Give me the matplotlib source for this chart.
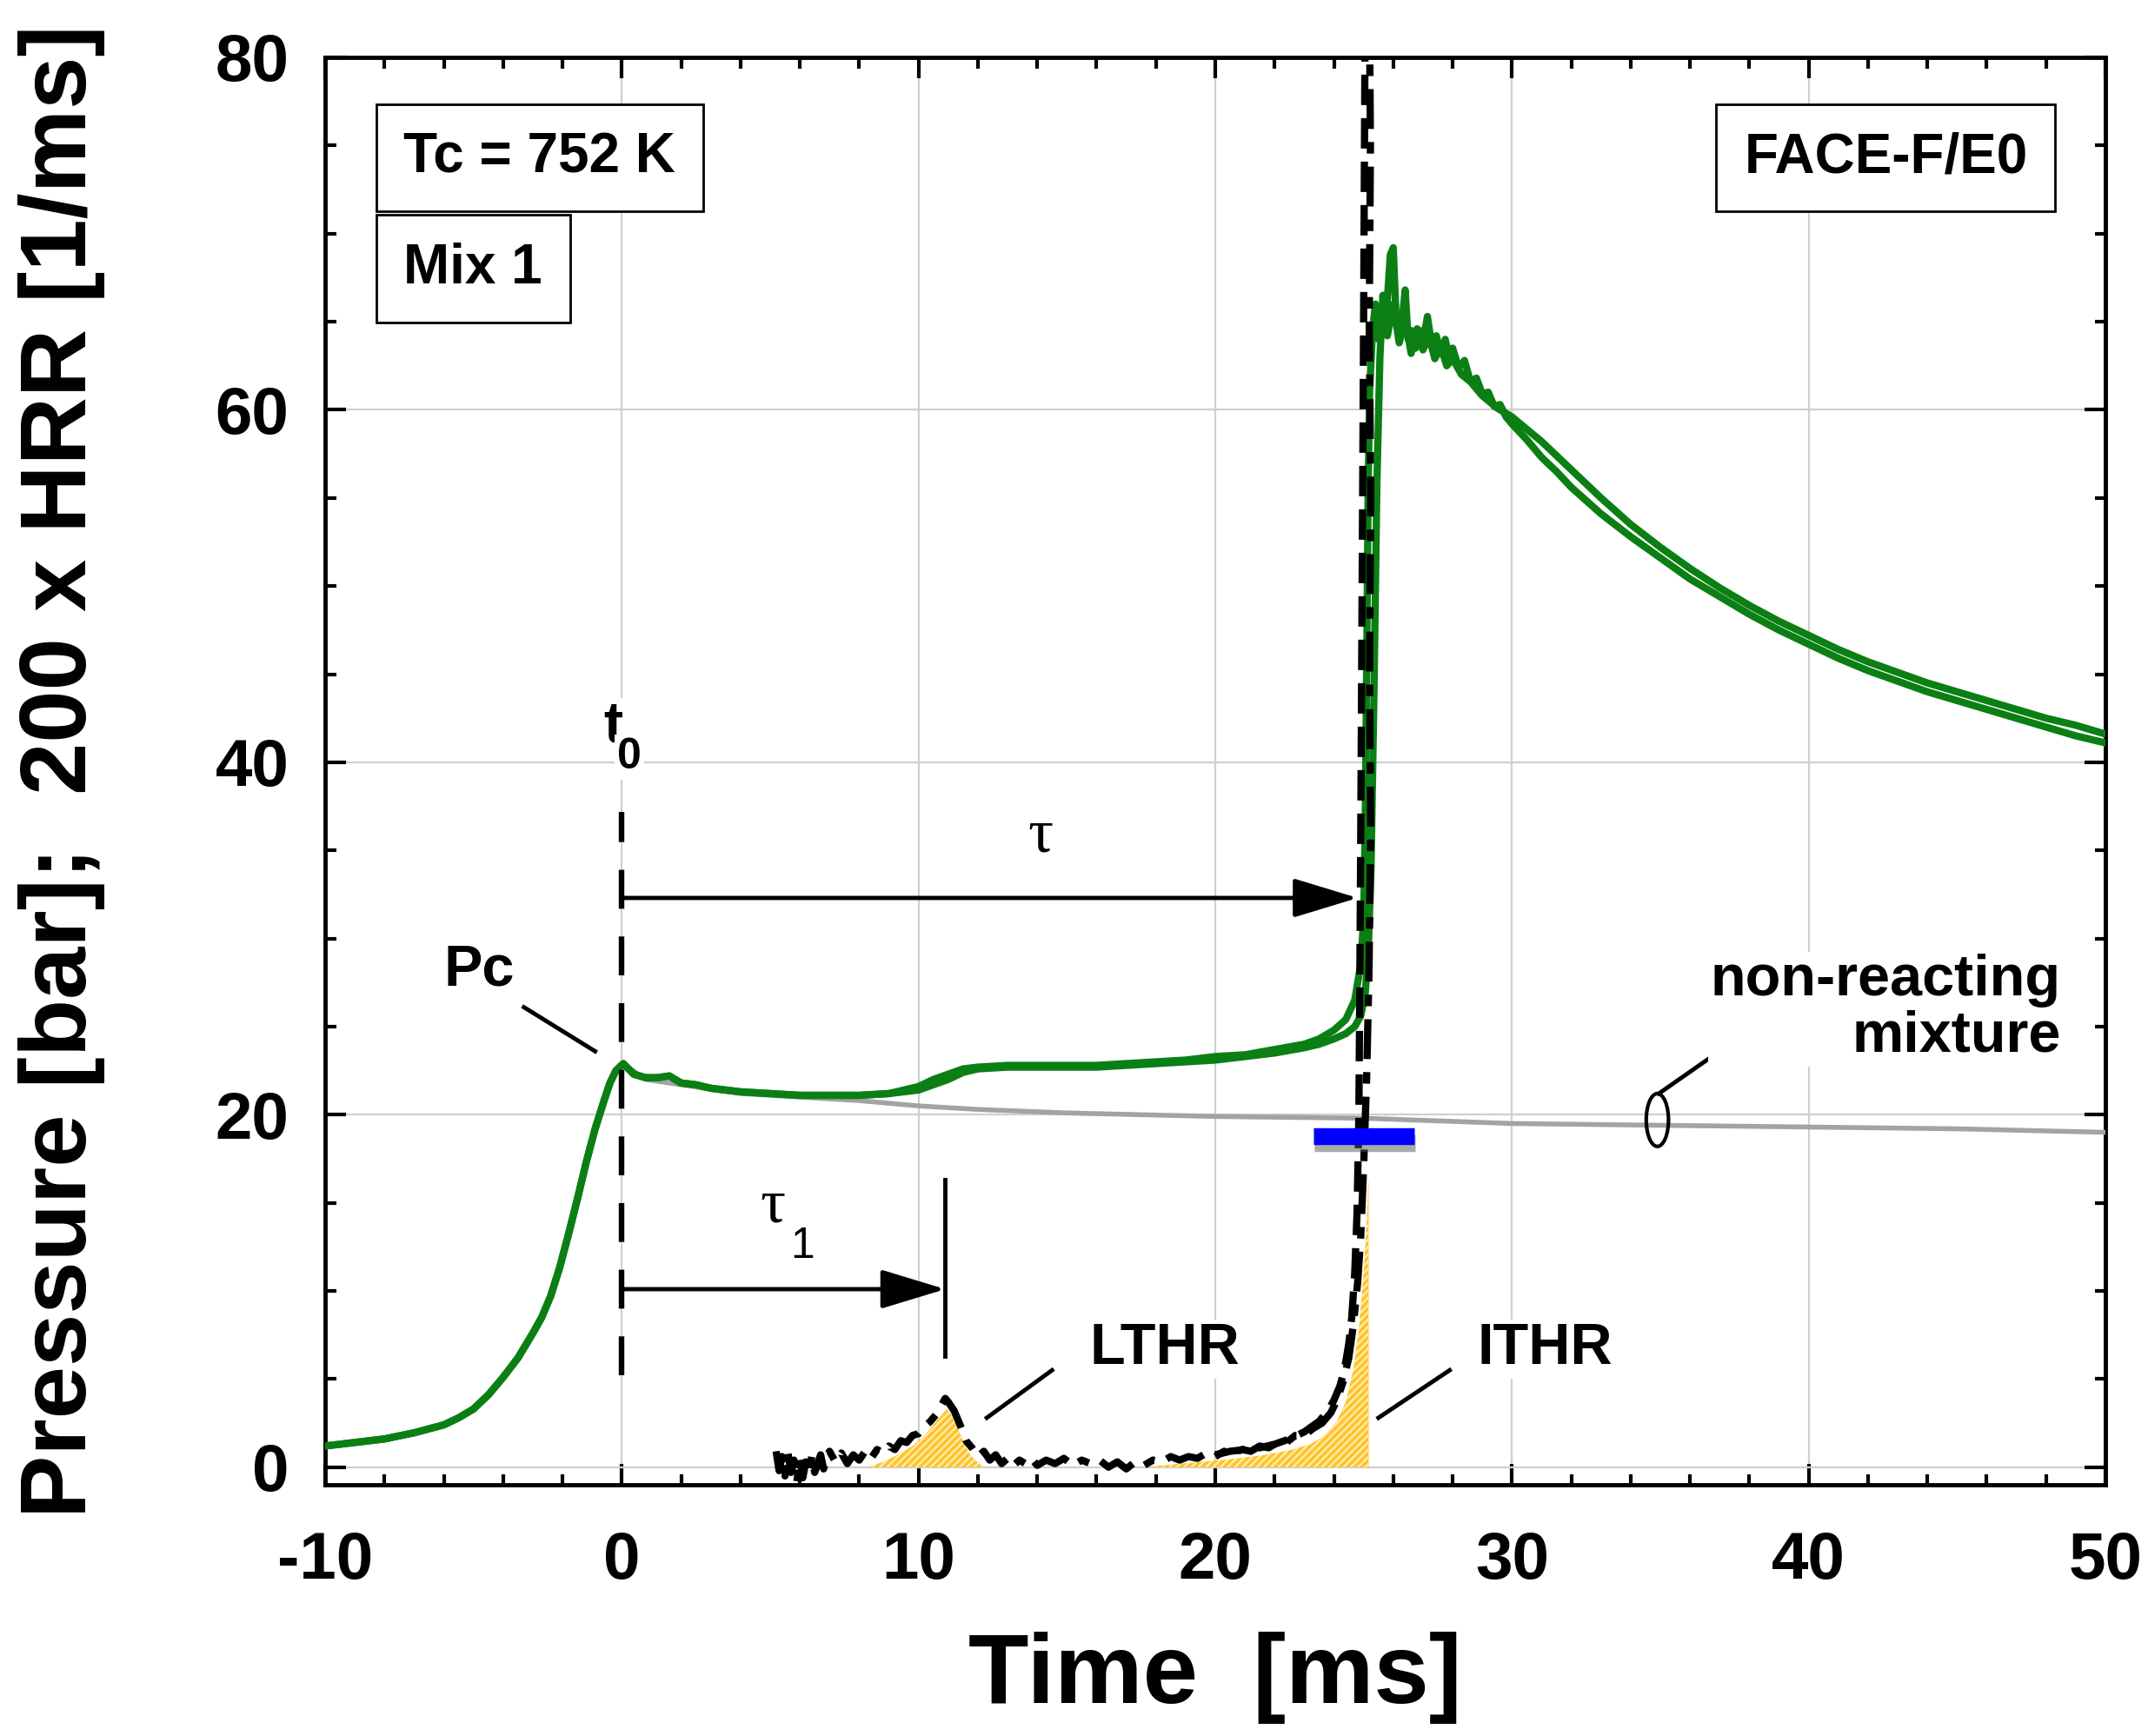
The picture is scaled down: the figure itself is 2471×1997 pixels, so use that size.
import matplotlib
matplotlib.use('Agg')
import matplotlib.pyplot as plt
import matplotlib.patheffects as pe
from matplotlib.patches import Ellipse
from matplotlib.ticker import MultipleLocator

plt.rcParams['font.family'] = ['Liberation Sans Narrow', 'Liberation Sans', 'DejaVu Sans']
plt.rcParams['font.weight'] = 'bold'
plt.rcParams['axes.unicode_minus'] = False
plt.rcParams['hatch.linewidth'] = 1.5

# --- data ---
# compression stroke (common to all runs) [ms], [bar]
t_comp = [-10, -9, -8, -7, -6, -5.5, -5, -4.5, -4, -3.5, -3, -2.7, -2.4, -2.1, -1.8, -1.5, -1.2,
          -0.9, -0.6, -0.4, -0.2, 0.05]
p_comp = [1.2, 1.4, 1.6, 1.95, 2.4, 2.8, 3.3, 4.1, 5.1, 6.2, 7.6, 8.5, 9.7, 11.3, 13.2, 15.2, 17.3,
          19.2, 20.8, 21.8, 22.5, 22.9]

# reacting run 1 (after TDC)
t_run1 = [0.05, 0.4, 0.8, 1.2, 1.6, 2.0, 2.5, 3, 4, 5, 6, 7, 8, 9, 9.5, 10, 10.5, 11, 11.5, 12, 13, 14,
          15, 16, 17, 18, 19, 20, 21, 22, 23, 23.5, 24, 24.4, 24.7, 24.9, 25.05, 25.15, 25.25, 25.35,
          25.45, 25.55, 25.65, 25.75, 25.9, 26.0, 26.1, 26.25, 26.4, 26.5, 26.6, 26.75, 26.9, 27.0,
          27.15, 27.3, 27.45, 27.6, 27.75, 27.9, 28.0, 28.2, 28.4, 28.6, 28.8, 29.0, 29.2, 29.4, 29.6,
          29.8, 30.0, 30.5, 31, 31.5, 32, 33, 34, 35, 36, 37, 38, 39, 40, 41, 42, 43, 44, 45, 46, 47,
          48, 49, 50]
p_run1 = [22.9, 22.3, 22.1, 22.1, 22.2, 21.8, 21.7, 21.5, 21.3, 21.2, 21.1, 21.1, 21.1, 21.2, 21.3,
          21.4, 21.7, 22.0, 22.4, 22.6, 22.7, 22.7, 22.7, 22.7, 22.8, 22.9, 23.0, 23.1, 23.3, 23.5,
          23.8, 24.0, 24.3, 24.6, 25.0, 25.6, 26.8, 29.0, 34.0, 44.0, 56.0, 63.0, 66.5, 65.0, 68.8,
          69.2, 65.0, 64.2, 66.8, 64.0, 64.5, 63.5, 64.5, 63.8, 65.3, 63.6, 64.2, 63.2, 64.0, 62.8,
          63.5, 62.4, 62.8, 61.6, 61.8, 60.9, 61.0, 60.2, 60.3, 59.6, 59.2, 58.3, 57.3, 56.5, 55.6,
          54.1, 52.8, 51.6, 50.4, 49.4, 48.4, 47.5, 46.7, 45.9, 45.2, 44.6, 44.0, 43.5, 43.0, 42.5,
          42.0, 41.5, 41.1]

# reacting run 2 (after TDC)
t_run2 = [0.05, 0.4, 0.8, 1.2, 1.6, 2.0, 2.5, 3, 4, 5, 6, 7, 8, 9, 9.5, 10, 10.5, 11, 11.5, 12, 13, 14,
          15, 16, 17, 18, 19, 20, 21, 22, 23, 23.5, 24, 24.4, 24.7, 24.9, 25.0, 25.05, 25.1, 25.15,
          25.2, 25.3, 25.4, 25.5, 25.6, 25.8, 26.0, 26.2, 26.4, 26.6, 26.8, 27.0, 27.2, 27.4, 27.6,
          27.8, 28.0, 28.3, 28.6, 29.0, 29.5, 30.0, 31, 32, 33, 34, 35, 36, 37, 38, 39, 40, 41, 42,
          43, 44, 45, 46, 47, 48, 49, 50]
p_run2 = [22.9, 22.3, 22.1, 22.1, 22.2, 21.8, 21.7, 21.5, 21.3, 21.2, 21.1, 21.1, 21.1, 21.2, 21.4,
          21.6, 22.0, 22.3, 22.6, 22.7, 22.8, 22.8, 22.8, 22.8, 22.9, 23.0, 23.1, 23.3, 23.4, 23.7,
          24.0, 24.3, 24.8, 25.4, 26.5, 28.5, 31.0, 36.0, 45.0, 55.0, 61.0, 64.5, 66.0, 64.0, 65.5,
          64.2, 66.0, 63.8, 65.2, 63.2, 64.6, 63.4, 64.2, 62.9, 63.6, 62.5, 62.9, 62.0, 61.6, 60.8,
          60.1, 59.6, 58.2, 56.6, 55.0, 53.5, 52.2, 51.0, 49.9, 48.9, 48.0, 47.2, 46.4, 45.7, 45.1,
          44.5, 44.0, 43.5, 43.0, 42.5, 42.1, 41.6]

# non-reacting mixture (after TDC)
t_nonreact = [0.05, 0.8, 2, 4, 6, 8, 10, 12, 15, 20, 25, 30, 35, 40, 45, 50]
p_nonreact = [22.9, 22.0, 21.7, 21.2, 21.0, 20.8, 20.5, 20.3, 20.1, 19.9, 19.8, 19.5, 19.4, 19.3, 19.2, 19.0]

# 200 x HRR, run 1 [1/ms]
t_hrr1 = [5.2, 5.3, 5.4, 5.5, 5.6, 5.7, 5.8, 5.9, 6.0, 6.1, 6.2, 6.3, 6.4, 6.5, 6.6, 6.7, 6.8, 6.9, 7.0,
          7.2, 7.4, 7.6, 7.8, 8.0, 8.2, 8.4, 8.6, 8.8, 9.0, 9.2, 9.4, 9.6, 9.8, 10.0, 10.2, 10.4, 10.6,
          10.8, 10.9, 11.0, 11.2, 11.4, 11.6, 11.8, 12.0, 12.2, 12.4, 12.6, 12.8, 13.0, 13.2, 13.4,
          13.6, 13.8, 14.0, 14.3, 14.6, 14.9, 15.2, 15.5, 15.8, 16.1, 16.4, 16.7, 17.0, 17.3, 17.6,
          17.9, 18.2, 18.5, 18.8, 19.1, 19.4, 19.7, 20.0, 20.3, 20.6, 20.9, 21.2, 21.5, 21.8, 22.1,
          22.4, 22.7, 23.0, 23.3, 23.6, 23.9, 24.1, 24.3, 24.5, 24.65, 24.8, 24.9, 25.0, 25.1, 25.18,
          25.24, 25.2, 25.24, 25.19, 25.23, 25.2]
hrr1 = [0.9, -0.2, 0.6, -0.5, 0.8, -0.3, 0.4, -0.8, 0.5, -0.6, 0.3, -0.4, 0.6, -0.3, 0.2, 0.7, -0.1,
        0.5, 0.9, 0.3, 0.8, 0.2, 0.7, 0.4, 0.9, 0.5, 1.0, 0.8, 1.2, 1.0, 1.5, 1.4, 1.8, 1.9, 2.3, 2.6,
        3.0, 3.6, 3.9, 3.7, 3.2, 2.4, 1.5, 1.1, 0.6, 0.9, 0.4, 0.7, 0.2, 0.5, 0.1, 0.4, 0.2, 0.5, 0.1,
        0.4, 0.2, 0.5, 0.1, 0.4, 0.2, 0.4, 0.0, 0.3, -0.1, 0.3, 0.1, 0.4, 0.3, 0.6, 0.4, 0.6, 0.5,
        0.8, 0.6, 0.9, 0.8, 1.0, 0.9, 1.2, 1.1, 1.4, 1.4, 1.8, 1.8, 2.2, 2.5, 3.1, 3.8, 4.8, 6.2, 8.0,
        10.5, 13.0, 17.0, 22.0, 28.0, 36.0, 45.0, 55.0, 65.0, 75.0, 82.0]

# 200 x HRR, run 2 [1/ms]
t_hrr2 = [20.0, 20.5, 21.0, 21.5, 22.0, 22.5, 23.0, 23.5, 23.8, 24.0, 24.2, 24.35, 24.5, 24.6, 24.7,
          24.78, 24.84, 24.87, 24.9, 24.95, 25.0, 25.05]
hrr2 = [0.7, 0.9, 1.0, 1.1, 1.3, 1.6, 2.0, 2.6, 3.2, 3.8, 4.6, 5.5, 7.0, 8.5, 11.0, 14.5, 20.0, 27.0,
        35.0, 50.0, 65.0, 82.0]

# heat release areas (yellow)
t_lthr = [8.3, 8.8, 9.3, 9.8, 10.2, 10.5, 10.8, 10.95, 11.1, 11.3, 11.5, 11.7, 11.9, 12.2]
q_lthr = [0.0, 0.3, 0.7, 1.2, 1.8, 2.4, 3.0, 3.3, 3.0, 2.3, 1.5, 0.8, 0.4, 0.0]
t_ithr = [17.6, 18.5, 19.5, 20.5, 21.5, 22.5, 23.2, 23.7, 24.1, 24.4, 24.65, 24.85, 25.0, 25.1, 25.17, 25.171]
q_ithr = [0.0, 0.15, 0.3, 0.45, 0.65, 0.95, 1.3, 1.8, 2.6, 3.7, 5.5, 8.0, 11.0, 13.8, 16.5, 0.0]

green = '#0b7f14'

fig = plt.figure(figsize=(24.71, 19.97), dpi=100)
ax = fig.add_axes([374 / 2471, 1 - 1708 / 1997, 2048 / 2471, 1642 / 1997])

ax.fill_between(t_lthr, q_lthr, 0, facecolor='#ffc42e', edgecolor='#fff0b8', hatch='////',
                linewidth=0, zorder=2)
ax.fill_between(t_ithr, q_ithr, 0, facecolor='#ffc42e', edgecolor='#fff0b8', hatch='////',
                linewidth=0, zorder=2)

ax.plot(t_comp + t_nonreact, p_comp + p_nonreact, color='#a3a3a3', lw=4, zorder=3)
ax.plot(t_comp + t_run1, p_comp + p_run1, color=green, lw=6, zorder=4)
ax.plot(t_comp + t_run2, p_comp + p_run2, color=green, lw=6, zorder=4)

ax.plot(t_hrr1, hrr1, color='black', lw=6, linestyle=(0, (5.5, 1.8, 1.6, 1.8)), zorder=5)
ax.plot(t_hrr2, hrr2, color='black', lw=6, linestyle=(0, (4.2, 1.8)), zorder=5)

# blue marker with shadow
ax.plot([23.3, 26.7], [18.8, 18.8], color='#0000ff', lw=14, solid_capstyle='butt', zorder=6,
        path_effects=[pe.SimpleLineShadow(offset=(1, -6), shadow_color='#555555', alpha=0.5),
                      pe.Normal()])

# t0 line and arrows
ax.plot([0, 0], [5.2, 37.2], color='black', lw=4.6, linestyle=(0, (7, 5)), zorder=5)
ax.annotate('', xy=(24.8, 32.3), xytext=(0, 32.3),
            arrowprops=dict(arrowstyle='-|>,head_length=4.6,head_width=1.4', color='black',
                            lw=3.5, mutation_scale=10, shrinkA=0, shrinkB=0), zorder=6)
ax.annotate('', xy=(10.9, 10.1), xytext=(0, 10.1),
            arrowprops=dict(arrowstyle='-|>,head_length=4.6,head_width=1.4', color='black',
                            lw=3.5, mutation_scale=10, shrinkA=0, shrinkB=0), zorder=6)
ax.plot([10.9, 10.9], [6.3, 16.3], color='black', lw=3.5, zorder=6)

white = dict(facecolor='white', edgecolor='none', pad=2)
ax.text(-0.3, 42.0, 't', fontsize=48, ha='center', va='center', bbox=white, zorder=7)
ax.text(0.25, 40.3, '0', fontsize=36, ha='center', va='center', bbox=white, zorder=7)
ax.text(14.1, 35.8, 'τ', fontsize=52, ha='center', va='center', family=['Liberation Serif'],
        fontweight='normal', zorder=7)
ax.text(5.1, 14.8, 'τ', fontsize=52, ha='center', va='center', family=['Liberation Serif'],
        fontweight='normal', zorder=7)
ax.text(6.1, 12.5, '1', fontsize=36, ha='center', va='center', fontweight='normal', zorder=7)

# labels and leaders
ax.text(-4.8, 28.2, 'Pc', fontsize=48, ha='center', va='center', bbox=white, zorder=7)
ax.plot([-3.3, -0.9], [26.1, 23.6], color='black', lw=3.5, zorder=6)
ax.text(18.3, 6.7, 'LTHR', fontsize=48, ha='center', va='center', bbox=white, zorder=7)
ax.plot([12.3, 14.5], [2.8, 5.5], color='black', lw=3.5, zorder=6)
ax.text(31.1, 6.7, 'ITHR', fontsize=48, ha='center', va='center', bbox=white, zorder=7)
ax.plot([25.5, 27.9], [2.8, 5.5], color='black', lw=3.5, zorder=6)
ax.text(48.5, 26.0, 'non-reacting\nmixture', fontsize=48, ha='right', va='center',
        multialignment='right', linespacing=1.05, bbox=white, zorder=7)
ax.plot([34.95, 37.5], [21.2, 24.2], color='black', lw=3.5, zorder=6)
ax.add_patch(Ellipse((34.9, 19.7), width=0.75, height=3.0, fill=False, edgecolor='black',
                     lw=3, zorder=7))

box = dict(boxstyle='square,pad=0.5', facecolor='white', edgecolor='black', lw=2)
ax.text(-7.35, 74.3, 'Tc = 752 K', fontsize=46, ha='left', va='center', bbox=box, zorder=8)
ax.text(-7.35, 68.0, 'Mix 1', fontsize=46, ha='left', va='center', bbox=box, zorder=8)
ax.text(42.6, 74.3, 'FACE-F/E0', fontsize=46, ha='center', va='center', bbox=box, zorder=8)

ax.set_xlim(-10, 50)
ax.set_ylim(-1, 80)
ax.xaxis.set_major_locator(MultipleLocator(10))
ax.xaxis.set_minor_locator(MultipleLocator(2))
ax.yaxis.set_major_locator(MultipleLocator(20))
ax.yaxis.set_minor_locator(MultipleLocator(5))
ax.grid(True, which='major', color='#cfcfcf', lw=1.6, zorder=0)
ax.set_axisbelow(True)
ax.tick_params(which='both', direction='in', top=True, right=True, width=3, labelsize=55)
ax.tick_params(which='major', length=17)
ax.tick_params(which='minor', length=9)
ax.tick_params(axis='x', pad=38)
ax.tick_params(axis='y', pad=30)
for s in ax.spines.values():
    s.set_linewidth(3.5)

ax.set_xlabel('Time  [ms]', fontsize=82, fontweight='bold', va='center')
ax.xaxis.set_label_coords(0.5, -0.135)
ax.set_ylabel('Pressure [bar];  200 x HRR [1/ms]', fontsize=78, fontweight='bold', va='center')
ax.yaxis.set_label_coords(-0.148, 0.5)

fig.savefig('out.png', dpi=100)
